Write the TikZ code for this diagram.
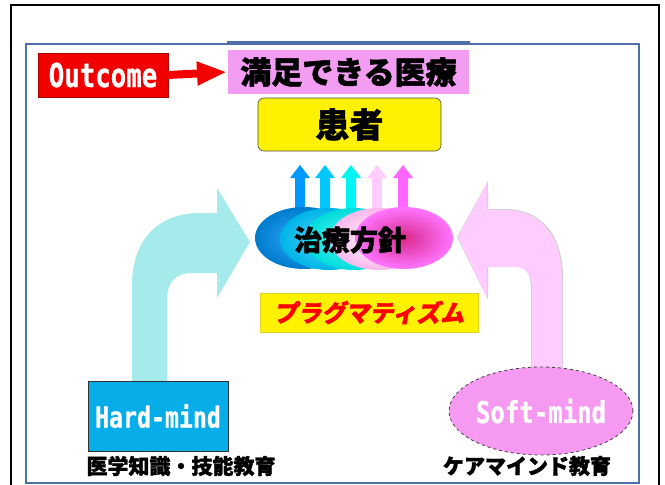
\documentclass[tikz,border=0pt]{standalone}
\usepackage{fontspec}
\usepackage{graphicx}
\usetikzlibrary{shapes.geometric,arrows.meta}
\newfontfamily\jp{Noto Sans CJK JP}[BoldFont={Noto Sans CJK JP Black},BoldFeatures={FakeBold=1.6}]
\newfontfamily\jpsl{Noto Sans CJK JP Black}[FakeSlant=0.18,FakeBold=1.4]
\newfontfamily\mono{DejaVu Sans Mono}[BoldFeatures={FakeBold=0.8}]
\definecolor{framblue}{HTML}{4F6FA8}
\definecolor{outred}{HTML}{F20000}
\definecolor{goalpink}{HTML}{F29CF2}
\definecolor{hardblue}{HTML}{06ADE8}
\definecolor{softpink}{HTML}{F59AF0}
\definecolor{cyanarrow}{HTML}{A6EBEB}
\definecolor{pinkarrow}{HTML}{FFCCFF}
\definecolor{aone}{HTML}{0099FF}
\definecolor{atwo}{HTML}{00C8FF}
\definecolor{athree}{HTML}{00F4F4}
\definecolor{afour}{HTML}{FFCCFF}
\definecolor{afive}{HTML}{FF66FF}
\tikzset{
  boxbase/.style={inner sep=0pt, outer sep=0pt},
  jptext/.style={font=\jp\bfseries, text=black},
}
\begin{document}
\begin{tikzpicture}[x=1pt,y=-1pt]
\useasboundingbox (0,0) rectangle (665,485);
\fill[white] (0,0) rectangle (665,485);
% frames
\draw[black, line width=2] (11,486) -- (11,5) -- (659,5) -- (659,486);
\draw[framblue, line width=1.2] (26,44) rectangle (639,483);
\draw[framblue, line width=1.2] (227,42) -- (470,42);
% big bent arrows
\fill[cyanarrow] (132,382) -- (132,285) .. controls (132,238) and (160,213) .. (200,213) -- (217,213) -- (217,188) -- (250,242) -- (217,298) -- (217,273) -- (192,273) .. controls (176,273) and (167,282) .. (167,300) -- (167,382) -- cycle;
\fill[gray!35] (563.2,370) -- (563.2,280) .. controls (563.2,234) and (541,209) .. (505,209) -- (488,209) -- (488,181) -- (457,237) -- (488,300) -- (488,266) -- (515,266) .. controls (526,266) and (531,274) .. (531,290) -- (531,370) -- cycle;
\fill[pinkarrow] (562,370) -- (562,280) .. controls (562,235) and (540,210) .. (505,210) -- (487,210) -- (487,183) -- (458,237) -- (487,298) -- (487,267) -- (515,267) .. controls (527,267) and (532,275) .. (532,290) -- (532,370) -- cycle;
% small arrows
\foreach \x/\c in {300/aone, 325/atwo, 351/athree, 377/afour, 403/afive}{
  \fill[fill=\c] (\x-5,215) -- (\x-5,178) -- (\x-10,178) -- (\x,165) -- (\x+10,178) -- (\x+5,178) -- (\x+5,215) -- cycle;
}
% ellipses
\shade[inner color=aone!80, outer color=aone!80!black] (304,238) ellipse [x radius=49, y radius=31];
\shade[inner color=atwo!70!white, outer color=atwo!90!black] (329,239) ellipse [x radius=49, y radius=31];
\shade[inner color=athree!60!white, outer color=athree!90!black] (354,239) ellipse [x radius=49, y radius=31];
\shade[inner color=white, outer color=afour!90!purple] (379,239) ellipse [x radius=49, y radius=31];
\shade[inner color=afive!40!purple, outer color=afive!90!white] (404,238) ellipse [x radius=49, y radius=31];
\node[jptext, font=\jp\bfseries\fontsize{28}{28}\selectfont] (policy) at (350,240) {治療方針};
% top boxes
\node[boxbase, fill=outred, draw=outred!70!black, line width=0.6, minimum width=130, minimum height=44] (out) at (103,75)
  {\textcolor{white}{\scalebox{0.78}[1]{\mono\bfseries\fontsize{33}{33}\selectfont Outcome}}};
\node[boxbase, fill=goalpink, draw=white, line width=1.5, minimum width=243, minimum height=46] (goal) at (348.5,72)
  {\jp\bfseries\fontsize{31}{31}\selectfont 満足できる医療};
\draw[outred, line width=8, -{Triangle[length=30pt,width=22pt]}] (out.east) -- (goal.west);
\node[boxbase, fill=yellow, draw=gray!60!black, line width=0.6, rounded corners=6, minimum width=183, minimum height=53] (patient) at (349.5,124.5)
  {\jp\bfseries\fontsize{34}{34}\selectfont 患者};
\node[boxbase, fill=yellow, draw=yellow!85!black, line width=0.6, minimum width=218, minimum height=39] (prag) at (369,312.5)
  {\textcolor{red}{\jpsl\fontsize{24}{24}\selectfont プラグマティズム}};
% bottom
\node[boxbase, fill=hardblue, draw=black!80, line width=0.8, minimum width=140, minimum height=70] (hard) at (158,416)
  {\textcolor{white}{\scalebox{0.8}[1]{\mono\bfseries\fontsize{29}{29}\selectfont Hard-mind}}};
\node[boxbase, ellipse, fill=softpink, draw=black!75, dashed, line width=0.8, minimum width=142, minimum height=88] (soft) at (541,411)
  {\textcolor{white}{\scalebox{0.8}[1]{\mono\bfseries\fontsize{30}{30}\selectfont Soft-mind}}};
\node[jptext, font=\jp\bfseries\fontsize{21}{21}\selectfont] (hardlbl) at (181,466) {医学知識・技能教育};
\node[jptext, font=\jp\bfseries\fontsize{21}{21}\selectfont] (softlbl) at (527,466) {ケアマインド教育};
\end{tikzpicture}
\end{document}
